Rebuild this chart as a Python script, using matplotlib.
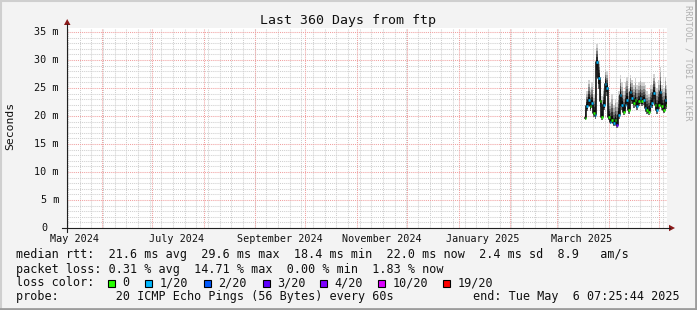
import numpy as np
import pandas as pd
import matplotlib
matplotlib.use('Agg')
import matplotlib.pyplot as plt
from matplotlib.patches import Rectangle, Polygon
from matplotlib.lines import Line2D

# daily consolidated values (ms) from mid March to the end time
first_day = '2025-03-18'
end_time = pd.Timestamp('2025-05-06 07:25:44')
span_days = 360

median = [19.7, 21.7, 22.9, 21.7, 22.3, 20.5, 20.2, 29.6, 26.7, 22.6,
          19.9, 22.0, 25.8, 25.0, 19.9, 19.0, 19.3, 18.7, 19.3, 18.4,
          20.2, 23.8, 22.0, 20.8, 22.0, 22.9, 21.1, 24.3, 23.2, 22.3,
          22.9, 21.7, 22.6, 23.2, 22.6, 22.9, 21.4, 21.1, 20.8, 21.7,
          22.3, 24.1, 22.0, 21.1, 22.0, 24.3, 21.7, 21.1, 22.9, 22.0]
smoke_hi = [21.5, 24.5, 26.5, 25.0, 26.0, 24.0, 25.5, 32.8, 30.0, 26.0,
            23.5, 25.0, 28.3, 28.0, 23.0, 22.5, 23.9, 22.0, 23.0, 22.5,
            24.5, 27.3, 26.0, 24.5, 26.0, 27.0, 25.0, 27.3, 26.5, 25.5,
            26.7, 25.5, 26.0, 27.0, 26.0, 26.0, 25.5, 24.5, 24.0, 25.5,
            25.5, 27.5, 26.0, 25.0, 26.4, 28.7, 25.5, 25.0, 27.0, 25.5]
smoke_lo = [19.2, 20.9, 21.8, 20.9, 21.5, 19.8, 19.5, 27.0, 24.8, 21.6,
            19.3, 21.0, 24.2, 23.6, 19.2, 18.5, 18.7, 18.2, 18.7, 17.9,
            19.5, 22.5, 21.1, 20.1, 21.2, 21.9, 20.4, 23.0, 22.2, 21.5,
            22.0, 21.0, 21.7, 22.2, 21.8, 22.0, 20.7, 20.4, 20.2, 20.9,
            21.4, 23.0, 21.2, 20.4, 21.2, 23.1, 21.0, 20.5, 21.9, 21.3]
# loss bucket index per day
loss_idx = [0, 1, 1, 0, 1, 0, 1, 1, 1, 0,
            0, 1, 1, 1, 0, 1, 0, 1, 0, 3,
            1, 1, 1, 0, 1, 1, 0, 1, 1, 0,
            0, 1, 0, 1, 0, 1, 1, 0, 0, 1,
            1, 1, 0, 1, 0, 1, 0, 0, 1, 0]

loss_labels = ['0', '1/20', '2/20', '3/20', '4/20', '10/20', '19/20']
loss_colors = ['#26ff00', '#00b8ff', '#0059ff', '#5e00ff', '#7e00ff', '#dd00ff', '#ff0000']

ytick_vals = [0, 5, 10, 15, 20, 25, 30, 35]
xlabel_months = ['2024-05', '2024-07', '2024-09', '2024-11', '2025-01', '2025-03']

title = 'Last 360 Days from ftp'
stat_lines = ['median rtt:  21.6 ms avg  29.6 ms max  18.4 ms min  22.0 ms now  2.4 ms sd  8.9   am/s',
              'packet loss: 0.31 % avg  14.71 % max  0.00 % min  1.83 % now']
probe_txt = 'probe:        20 ICMP Echo Pings (56 Bytes) every 60s'
end_txt = 'end: Tue May  6 07:25:44 2025'

#=========================
W, H = 697, 310
mono = 'DejaVu Sans Mono'
plt.rcParams['font.family'] = mono

def fx(x):
   return x / W

def fy(y):
   return 1.0 - y / H

fig = plt.figure(figsize=(W / 100, H / 100), dpi=100, facecolor='#f3f3f3')
ax = fig.add_axes([fx(67), fy(228), 600 / W, 200 / H])
ax.set_facecolor('white')
for s in ax.spines.values():
   s.set_visible(False)

start = end_time - pd.Timedelta(days=span_days)
ax.set_xlim(start, end_time)
ax.set_ylim(0, 200 / 5.6)

# grid
minor_c = '#cfcfcf'
major_c = '#f0a0a0'
dot = (0, (1, 1))
for v in np.arange(1, 36):
   if v % 5:
      ax.axhline(v, color=minor_c, lw=0.75, ls=dot, zorder=0)
weeks = pd.date_range(start, end_time, freq='W-SUN').normalize()
months = pd.date_range(start, end_time, freq='MS')
for d in weeks:
   if d not in months:
      ax.axvline(d, color=minor_c, lw=0.75, ls=dot, zorder=0)
for v in ytick_vals[1:]:
   ax.axhline(v, color=major_c, lw=0.75, ls=dot, zorder=0.5)
for d in months:
   ax.axvline(d, color=major_c, lw=0.75, ls=dot, zorder=0.5)

ax.set_xticks([])
ax.set_yticks([])

# smoke
days = pd.date_range(first_day, periods=len(median), freq='D')
edges = list(days) + [end_time]
med = np.array(median + [median[-1]])
hi = np.array(smoke_hi + [smoke_hi[-1]])
lo = np.array(smoke_lo + [smoke_lo[-1]])

up_frac = [0.0, 0.15, 0.3, 0.45, 0.62, 0.8, 1.0]
up_col = ['#0a0a0a', '#2a2a2a', '#555555', '#808080', '#ababab', '#d2d2d2']
for i in range(len(up_col)):
   ax.fill_between(edges, med + (hi - med) * up_frac[i], med + (hi - med) * up_frac[i + 1],
                   step='post', color=up_col[i], lw=0, zorder=2)
lo_frac = [0.0, 0.5, 1.0]
lo_col = ['#1a1a1a', '#6a6a6a']
for i in range(len(lo_col)):
   ax.fill_between(edges, med - (med - lo) * lo_frac[i], med - (med - lo) * lo_frac[i + 1],
                   step='post', color=lo_col[i], lw=0, zorder=2)

# median line + loss colour
ax.plot(edges, med, drawstyle='steps-post', color='#101010', lw=1.2, zorder=3)
for i in range(len(median)):
   ax.plot([edges[i], edges[i + 1]], [median[i], median[i]], color=loss_colors[loss_idx[i]],
           lw=1.8, solid_capstyle='butt', zorder=4)

# axis tick labels
for v in ytick_vals:
   lab = '%d m' % v if v else '0'
   off = 8 if v else 20
   ax.annotate(lab, xy=(0, v), xycoords=('axes fraction', 'data'), xytext=(-off, 0),
               textcoords='offset pixels', ha='right', va='center', fontsize=7.3, color='#101010')
for m in xlabel_months:
   d = pd.Timestamp(m + '-16')
   ax.annotate(d.strftime('%B %Y'), xy=(d, 0), xycoords=('data', 'axes fraction'), xytext=(0, -13.5),
               textcoords='offset pixels', ha='center', va='baseline', fontsize=7.3, color='#101010')

# axis lines and arrows
fig.add_artist(Line2D([fx(62), fx(670)], [fy(228), fy(228)], color='#202020', lw=0.8))
fig.add_artist(Line2D([fx(67), fx(67)], [fy(232), fy(24)], color='#202020', lw=0.8))
fig.add_artist(Polygon([[fx(64), fy(25)], [fx(70.5), fy(25)], [fx(67.2), fy(19)]], closed=True,
                       color='#8b1a1a', lw=0))
fig.add_artist(Polygon([[fx(669), fy(224.8)], [fx(669), fy(231.2)], [fx(675), fy(228)]], closed=True,
                       color='#8b1a1a', lw=0))

# texts
fig.text(fx(348), fy(24), title, ha='center', va='baseline', fontsize=9.5, color='#101010')
fig.text(fx(10.5), fy(126), 'Seconds', rotation=90, ha='center', va='center', fontsize=8.2, color='#101010')
fig.text(fx(688), fy(5), 'RRDTOOL / TOBI OETIKER', rotation=270, ha='center', va='top',
         fontsize=6.2, color='#b0b0b0')

fig.text(fx(16), fy(258), stat_lines[0], ha='left', va='baseline', fontsize=8.5, color='#101010')
fig.text(fx(16), fy(272.5), stat_lines[1], ha='left', va='baseline', fontsize=8.5, color='#101010')
fig.text(fx(16), fy(286), 'loss color:', ha='left', va='baseline', fontsize=8.5, color='#101010')
box_x = [108, 145, 204, 263, 320, 378, 443]
for bx, lab, c in zip(box_x, loss_labels, loss_colors):
   fig.add_artist(Rectangle((fx(bx), fy(286.5)), 7 / W, 7 / H, facecolor=c, edgecolor='black', lw=0.8))
   fig.text(fx(bx + 14.5), fy(286), lab, ha='left', va='baseline', fontsize=8.5, color='#101010')
fig.text(fx(16), fy(300), probe_txt, ha='left', va='baseline', fontsize=8.5, color='#101010')
fig.text(fx(680), fy(300), end_txt, ha='right', va='baseline', fontsize=8.5, color='#101010')

# frame
fig.add_artist(Line2D([0, 1], [fy(0.8), fy(0.8)], color='#cfcfcf', lw=1.5))
fig.add_artist(Line2D([fx(0.8), fx(0.8)], [0, 1], color='#cfcfcf', lw=1.5))
fig.add_artist(Line2D([0, 1], [fy(308.8), fy(308.8)], color='#9c9c9c', lw=2))
fig.add_artist(Line2D([fx(695.8), fx(695.8)], [0, 1], color='#9c9c9c', lw=2))

plt.savefig('out.png', dpi=100, facecolor=fig.get_facecolor())
